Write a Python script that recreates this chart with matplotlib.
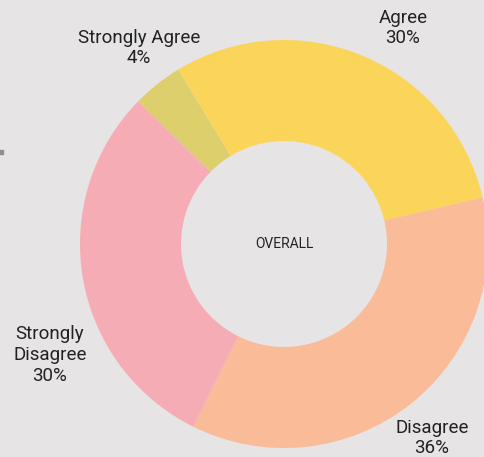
import matplotlib.pyplot as plt

plt.rcParams['font.family'] = ['Roboto', 'DejaVu Sans']

labels = ['Strongly Agree', 'Agree', 'Disagree', 'Strongly\nDisagree']
shares = [4, 30, 36, 30]
colors = ['#ddd06c', '#fbd55a', '#f9bb98', '#f6acb4']
bg = '#e6e4e4'

W, H = 485, 457
fig = plt.figure(figsize=(W / 100, H / 100), dpi=100, facecolor=bg)
ax = fig.add_axes([0, 0, 1, 1])
ax.set_facecolor(bg)

# donut, measured in pixel units (y runs upward)
cx, cy = 284, H - 244
r_out, r_in = 204, 103
ax.pie(shares, colors=colors, startangle=135.6, counterclock=False,
       center=(cx, cy), radius=r_out,
       wedgeprops=dict(width=r_out - r_in, linewidth=0))
ax.set_xlim(0, W)
ax.set_ylim(0, H)
ax.set_aspect('equal')
ax.axis('off')

ax.text(cx, cy, 'OVERALL', ha='center', va='center', fontsize=10, color='#222222')

# outside labels
label_pos = [(139, 48), (403, 28), (432, 438), (50, 355)]
for lab, val, (x, y) in zip(labels, shares, label_pos):
    ax.text(x, H - y, f'{lab}\n{val}%', ha='center', va='center',
            fontsize=13.5, color='#222222', linespacing=1.18)

# small mark at the left edge
ax.plot([1], [H - 152], marker='s', ms=2.2, color='#8f8f8f', clip_on=False)

fig.savefig('out.png', dpi=100, facecolor=bg)
